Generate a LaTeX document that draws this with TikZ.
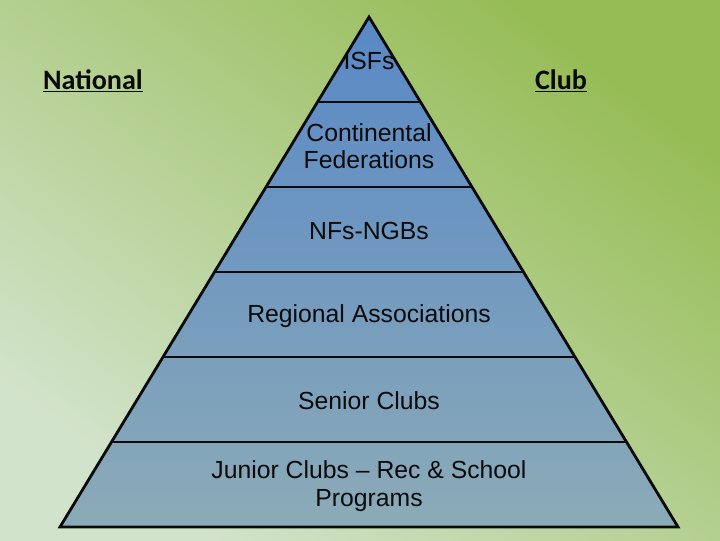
\documentclass[tikz,border=0pt]{standalone}
\usepackage{fontspec}
\setmainfont{Liberation Sans}
\newfontfamily\headfont{Carlito}
\usetikzlibrary{calc, positioning}
\definecolor{bgtop}{HTML}{96BC55}
\definecolor{bgbot}{HTML}{D2E3CB}
\definecolor{pyrtop}{HTML}{5888C6}
\definecolor{pyrbot}{HTML}{8CABB8}
\definecolor{ink}{HTML}{0A0A0A}
\tikzset{
    level/.style={
        text=ink, align=center, font=\fontsize{17.6}{19.6}\selectfont
    },
    side/.style={
        text=ink, font=\headfont\bfseries\fontsize{20}{24}\selectfont
    },
    divider/.style={
        draw=ink, line width=2pt
    }
}
\begin{document}
\begin{tikzpicture}[x=0.025cm, y=-0.025cm]
    \useasboundingbox (0,0) rectangle (720,540);
    \shade[top color=bgtop, bottom color=bgbot, shading angle=-37] (0,0) rectangle (720,540);

    \coordinate (apex) at (369,17);
    \coordinate (bl) at (60,527);
    \coordinate (br) at (678,527);

    % pyramid body
    \shade[top color=pyrtop, bottom color=pyrbot] (apex) -- (br) -- (bl) -- cycle;
    \draw[divider, line join=miter] (apex) -- (br) -- (bl) -- cycle;
    \draw[divider] ($(apex)!1/6!(bl)$) -- ($(apex)!1/6!(br)$);
    \draw[divider] ($(apex)!2/6!(bl)$) -- ($(apex)!2/6!(br)$);
    \draw[divider] ($(apex)!3/6!(bl)$) -- ($(apex)!3/6!(br)$);
    \draw[divider] ($(apex)!4/6!(bl)$) -- ($(apex)!4/6!(br)$);
    \draw[divider] ($(apex)!5/6!(bl)$) -- ($(apex)!5/6!(br)$);

    % levels
    \node[level] (isf) at (369,61) {ISFs};
    \node[level] (cont) at (369,146) {Continental\\Federations};
    \node[level] (nf) at (369,231) {NFs-NGBs};
    \node[level] (reg) at (369,316) {Regional Associations};
    \node[level] (sen) at (369,401) {Senior Clubs};
    \node[level] (jun) at (369,486) {Junior Clubs -- Rec \& School\\Programs};

    % sides
    \node[side] (nat) at (93,81) {\underline{National}};
    \node[side] (club) at (561,81) {\underline{Club}};
\end{tikzpicture}
\end{document}
